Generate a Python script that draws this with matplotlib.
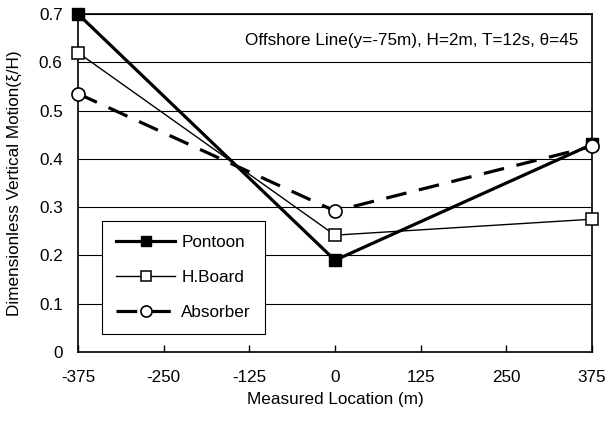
import matplotlib.pyplot as plt

plt.rcParams['font.family'] = ['Liberation Sans', 'DejaVu Sans']

locations = [-375, 0, 375]
pontoon = [0.70, 0.19, 0.43]
hboard = [0.62, 0.242, 0.275]
absorber = [0.535, 0.292, 0.426]
xticks = [-375, -250, -125, 0, 125, 250, 375]
yticks = [0, 0.1, 0.2, 0.3, 0.4, 0.5, 0.6, 0.7]

fs = 12.3

fig = plt.figure(figsize=(6.08, 4.21), dpi=100)
ax = fig.add_axes([78/608, 1-352/421, (592-78)/608, (352-14)/421])

for y in yticks[1:]:
    ax.axhline(y, color='black', lw=0.8, zorder=0)

ax.plot(locations, pontoon, color='black', lw=2.3, marker='s', ms=8,
        mfc='black', mec='black', label='Pontoon', clip_on=False, zorder=3)
ax.plot(locations, hboard, color='black', lw=1, marker='s', ms=8.6,
        mfc='white', mec='black', mew=1.1, label='H.Board', clip_on=False, zorder=3)
ax.plot(locations, absorber, color='black', lw=2.3, ls=(0, (6.5, 4)), marker='o', ms=9.4,
        mfc='white', mec='black', mew=1.2, label='Absorber', clip_on=False, zorder=3)

ax.set_xlim(-375, 375)
ax.set_ylim(0, 0.7)
ax.set_xticks(xticks)
ax.set_xticklabels([str(v) for v in xticks])
ax.set_yticks(yticks)
ax.set_yticklabels(['0'] + ['%.1f' % v for v in yticks[1:]])
ax.tick_params(axis='x', direction='in', length=5, width=1, labelsize=fs, pad=13)
ax.tick_params(axis='y', length=0, labelsize=fs, pad=11)
for s in ax.spines.values():
    s.set_linewidth(1.2)

ax.set_xlabel('Measured Location (m)', fontsize=fs, labelpad=5)
ax.set_ylabel('Dimensionless Vertical Motion(ξ/H)', fontsize=fs, labelpad=12)

ax.text((578-78)/514, (352-40)/338, 'Offshore Line(y=-75m), H=2m, T=12s, θ=45',
        transform=ax.transAxes, ha='right', va='center', fontsize=fs)

leg = ax.legend(loc='lower left', bbox_to_anchor=((102-78)/514, (352-334)/338), borderaxespad=0,
                fontsize=fs, fancybox=False, edgecolor='black', framealpha=1, handlelength=3.5,
                borderpad=0.8, labelspacing=1.18, handletextpad=0.35, markerscale=0.85)
leg.get_frame().set_linewidth(0.8)

fig.savefig('out.png', dpi=100)
